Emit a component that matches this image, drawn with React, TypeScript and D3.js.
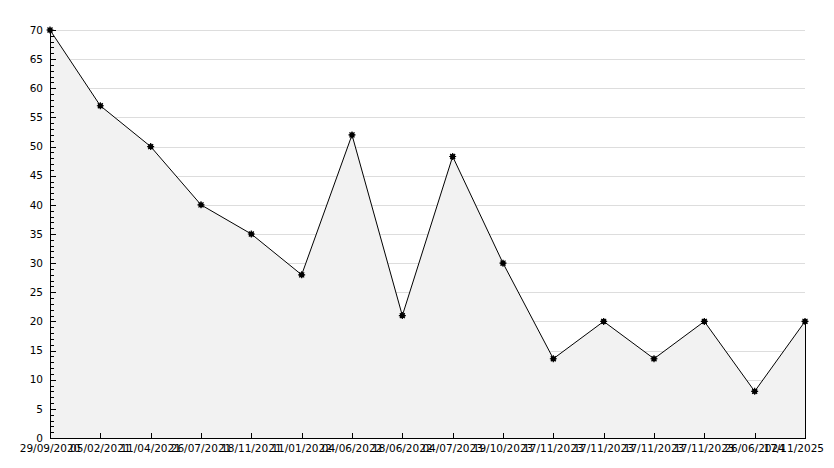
import React from "react";
import * as d3 from "d3";

const dates = [
  "29/09/2020", "05/02/2021", "11/04/2021", "26/07/2021", "18/11/2021",
  "11/01/2022", "04/06/2022", "18/06/2022", "04/07/2023", "19/10/2023",
  "17/11/2023", "17/11/2023", "17/11/2023", "17/11/2023", "26/06/2024",
  "17/11/2025",
];
const values = [70, 57, 50, 40, 35, 28, 52, 21, 48.3, 30, 13.6, 20, 13.6, 20, 8, 20];
const yTicks = [0, 5, 10, 15, 20, 25, 30, 35, 40, 45, 50, 55, 60, 65, 70];

const W = 834, H = 468;
const left = 50, right = 805, top = 30, bottom = 438;
const FONT = "'DejaVu Sans', sans-serif";

export default function App() {
  const x = d3.scalePoint<number>().domain(d3.range(values.length)).range([left, right]);
  const y = d3.scaleLinear().domain([0, 70]).range([bottom, top]);
  const pts: [number, number][] = values.map((v, i) => [x(i)!, y(v)]);
  const line = d3.line()(pts)!;
  const area = d3.area<[number, number]>().x(d => d[0]).y0(y(0)).y1(d => d[1])(pts)!;
  const minor = d3.range(0, 71, 1);
  const labelW = 60;
  return (
    <svg width={W} height={H} style={{ position: "absolute", left: 0, top: 0, background: "#fff" }}>
      <rect x={0} y={0} width={W} height={H} fill="#fff" />
      {yTicks.filter(t => t > 0).map(t => (
        <line key={t} x1={left} x2={right} y1={Math.round(y(t)) + 0.5} y2={Math.round(y(t)) + 0.5} stroke="#dddddd" strokeWidth={1} />
      ))}
      <path d={area} fill="#f2f2f2" stroke="none" />
      <line x1={right + 0.5} x2={right + 0.5} y1={y(values[values.length - 1])} y2={bottom} stroke="#000" />
      <path d={line} fill="none" stroke="#000" strokeWidth={1} />
      {pts.map((p, i) => (
        <g key={i} transform={`translate(${p[0]},${p[1]})`}>
          <circle r={2.6} fill="#000" />
          <path d="M-3.5,0H3.5M0,-3.5V3.5M-2.5,-2.5L2.5,2.5M-2.5,2.5L2.5,-2.5" stroke="#000" strokeWidth={1.2} />
        </g>
      ))}
      {/* y axis */}
      <line x1={left + 0.5} x2={left + 0.5} y1={top} y2={bottom} stroke="#000" strokeWidth={1} />
      {minor.map(t => (
        <line key={t} x1={left} x2={left + (t % 5 === 0 ? 6 : 4)} y1={Math.round(y(t)) + 0.5} y2={Math.round(y(t)) + 0.5} stroke="#000" />
      ))}
      {yTicks.map(t => (
        <text key={t} x={43} y={y(t)} dy="0.35em" textAnchor="end" fontFamily={FONT} fontSize={10.5} fill="#000">{t}</text>
      ))}
      {/* x axis */}
      <line x1={left} x2={right + 1} y1={bottom + 0.5} y2={bottom + 0.5} stroke="#000" strokeWidth={1} />
      {values.map((_, i) => (
        <line key={i} x1={Math.round(x(i)!) + 0.5} x2={Math.round(x(i)!) + 0.5} y1={bottom} y2={bottom - 5} stroke="#000" />
      ))}
      {dates.map((d, i) => {
        const cx = x(i)!;
        const overflow = cx + labelW / 2 > W - 10;
        return (
          <text key={i} x={overflow ? W - 10 : cx} y={bottom + 14} textAnchor={overflow ? "end" : "middle"} fontFamily={FONT} fontSize={10.5} fill="#000">{d}</text>
        );
      })}
    </svg>
  );
}
